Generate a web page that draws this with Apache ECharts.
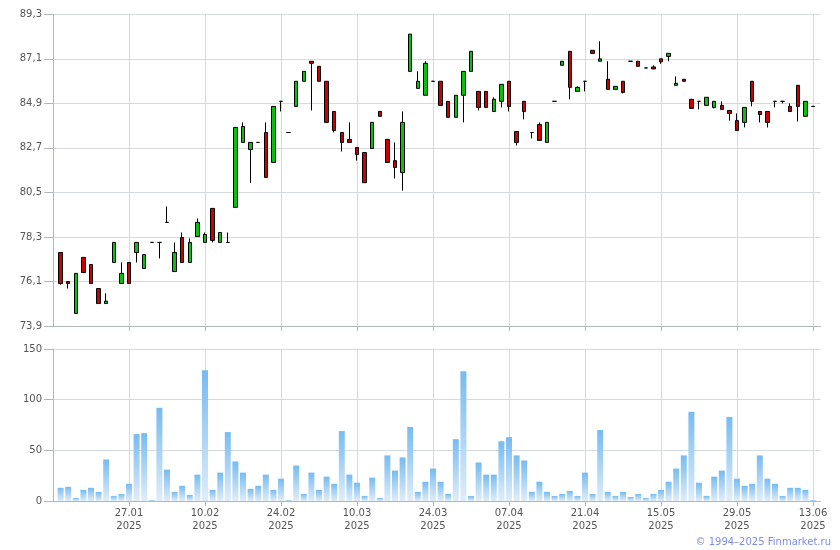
<!DOCTYPE html>
<html>
<head>
<meta charset="utf-8">
<script src="https://cdn.jsdelivr.net/npm/echarts@6/dist/echarts.min.js"></script>
<style>html,body{margin:0;padding:0;background:#fff}#c{width:840px;height:550px}</style>
</head>
<body>
<div id="c"></div>
<script>
// Price data per trading day (bars 0..99)
const openP  = [77.53,76.10,74.52,77.29,76.94,75.75,75.01,77.04,76.00,77.04,77.53,76.74,78.03,78.03,79.02,76.59,78.27,77.04,78.32,78.03,
                79.71,78.03,78.03,79.76,82.97,82.62,82.97,83.46,81.98,85.00,83.46,84.75,85.99,86.98,86.73,85.99,84.50,83.46,83.12,82.72,
                82.47,82.67,84.50,83.12,82.07,81.48,86.48,85.64,85.30,85.99,85.99,85.00,84.21,85.30,86.48,85.49,85.49,84.50,85.00,85.99,
                83.51,85.00,83.46,83.86,82.97,85.00,86.78,87.47,85.49,85.99,87.52,86.98,86.09,85.59,85.99,86.98,86.98,86.65,86.70,87.10,
                87.22,85.79,86.09,85.10,85.00,84.80,84.70,84.80,84.55,84.05,83.96,85.99,84.50,84.50,85.00,85.00,84.75,85.79,84.26,84.75];
const closeP = [76.00,76.00,76.50,76.54,76.00,75.01,75.13,78.03,76.50,76.00,78.03,77.43,78.03,78.03,79.02,77.53,77.04,78.03,79.02,78.42,
                78.13,78.52,78.03,83.71,83.76,82.97,82.97,81.24,84.75,85.00,83.46,85.99,86.48,86.88,85.99,83.96,83.56,82.97,82.97,82.37,
                80.98,83.96,84.26,81.98,81.73,83.96,88.32,85.99,86.88,85.99,84.80,84.21,85.30,86.48,87.47,84.70,84.70,85.10,85.84,84.75,
                82.97,84.50,83.46,83.07,83.96,85.00,86.98,85.69,85.69,85.99,87.37,87.10,85.59,85.74,85.44,86.98,86.73,86.65,86.60,86.95,
                87.37,85.89,85.99,84.65,85.00,85.20,85.00,84.60,84.40,83.56,84.70,85.00,84.35,83.96,85.00,85.00,84.50,84.75,85.00,84.75];
const lowP   = [75.94,75.75,74.52,76.54,76.00,75.01,75.01,77.04,76.00,76.00,77.04,76.74,78.03,77.24,79.02,76.59,77.04,77.04,78.32,78.03,
                78.03,78.03,78.03,79.76,82.97,80.97,82.97,81.24,81.98,84.50,83.46,84.75,85.99,84.55,85.99,83.96,83.46,82.52,82.97,82.07,
                80.98,82.67,84.26,81.98,81.19,80.59,86.48,85.64,85.30,85.99,84.80,84.21,84.21,83.96,86.48,84.55,84.70,84.50,84.70,84.50,
                82.82,84.11,83.17,83.07,82.97,85.00,86.78,85.10,85.49,85.49,87.37,86.98,85.59,85.59,85.39,86.98,86.73,86.65,86.60,86.85,
                86.98,85.79,85.99,84.65,84.60,84.80,84.65,84.60,84.05,83.56,83.71,84.75,83.96,83.71,84.70,84.90,84.50,84.00,84.26,84.75];
const highP  = [77.53,76.10,76.50,77.29,76.94,75.75,75.51,78.03,77.04,77.04,78.03,77.43,78.03,78.03,79.81,78.03,78.52,78.23,79.21,78.52,
                79.71,78.52,78.52,83.71,83.96,82.97,82.97,83.96,84.75,85.00,83.46,85.99,86.48,86.98,86.73,85.99,84.50,83.46,83.96,82.72,
                82.47,83.96,84.50,83.12,82.97,84.50,88.32,86.48,86.98,85.99,85.99,85.00,85.30,86.48,87.47,85.49,85.49,85.20,85.84,85.99,
                83.51,85.00,83.46,83.96,83.96,85.00,86.98,87.47,85.74,85.99,87.52,87.97,86.98,85.74,85.99,86.98,86.98,86.65,86.78,87.10,
                87.37,86.23,86.09,85.10,85.00,85.20,85.00,85.00,84.55,84.40,84.70,85.99,84.50,84.50,85.00,85.00,84.90,85.79,85.00,84.75];
const volume = [13,14,3,11,13,9,41,5,7,17,66,67,1,92,31,9,15,6,26,129,
                11,28,68,39,28,12,15,26,11,22,1,35,7,28,11,24,17,69,26,18,
                5,23,3,45,30,43,73,9,19,32,19,7,61,128,5,38,26,26,59,63,
                45,40,9,19,9,5,7,10,5,28,7,70,9,5,9,4,7,3,7,11,
                19,32,45,88,18,5,24,30,83,22,15,17,45,22,17,5,13,13,11,1];
// x-axis tick labels at bars 9,19,...,99
const tickBars   = [9,19,29,39,49,59,69,79,89,99];
const tickLabels = ['27.01','10.02','24.02','10.03','24.03','07.04','21.04','15.05','29.05','13.06'];
const tickYear = '2025';
// price axis ticks
const priceMin = 73.9, priceMax = 89.3, priceStep = 2.2;
const volMin = 0, volMax = 150, volStep = 50;

const N = openP.length;
// category slots: one empty slot before and after the bars
const cats = [];
for (let k = 0; k < N + 2; k++) cats.push(String(k));
const labelMap = {};
tickBars.forEach((b, i) => { labelMap[b + 1] = tickLabels[i] + '\n' + tickYear; });
const candleData = ['-'];
const volData = ['-'];
for (let i = 0; i < N; i++) {
  candleData.push([openP[i], closeP[i], lowP[i], highP[i]]);
  volData.push(volume[i]);
}
candleData.push('-'); volData.push('-');

const gridColor = '#d6d9dd', axisColor = '#b3b6be', txt = '#555';
const font = 'DejaVu Sans';
const tickFn = (idx) => idx > 0 && idx % 10 === 0;

const chart = echarts.init(document.getElementById('c'), null, {renderer: 'canvas'});
chart.setOption({
  animation: false,
  backgroundColor: '#fff',
  grid: [
    {left: 53, right: 19.4, top: 14.3, height: 311.7},
    {left: 53, right: 19.4, top: 349, height: 152}
  ],
  xAxis: [
    {type: 'category', gridIndex: 0, data: cats, boundaryGap: false,
     axisLine: {show: true, lineStyle: {color: axisColor}},
     axisTick: {show: true, interval: tickFn, length: 5, lineStyle: {color: axisColor}},
     axisLabel: {show: false},
     splitLine: {show: true, interval: tickFn, lineStyle: {color: gridColor}}},
    {type: 'category', gridIndex: 1, data: cats, boundaryGap: false,
     axisLine: {show: true, lineStyle: {color: axisColor}},
     axisTick: {show: true, interval: tickFn, length: 5, lineStyle: {color: axisColor}},
     axisLabel: {show: true, interval: tickFn, margin: 6, color: txt, fontFamily: font, fontSize: 10, lineHeight: 13,
                 formatter: (v, idx) => labelMap[idx] || ''},
     splitLine: {show: true, interval: tickFn, lineStyle: {color: gridColor}}}
  ],
  yAxis: [
    {type: 'value', gridIndex: 0, min: priceMin, max: priceMax, interval: priceStep, scale: true,
     axisLine: {show: true, lineStyle: {color: axisColor}},
     axisTick: {show: true, length: 9, lineStyle: {color: axisColor}},
     axisLabel: {margin: 11, color: txt, fontFamily: font, fontSize: 10,
                 formatter: v => v.toFixed(1).replace('.', ',')},
     splitLine: {show: true, lineStyle: {color: gridColor}}},
    {type: 'value', gridIndex: 1, min: volMin, max: volMax, interval: volStep,
     axisLine: {show: true, lineStyle: {color: axisColor}},
     axisTick: {show: true, length: 9, lineStyle: {color: axisColor}},
     axisLabel: {margin: 11, color: txt, fontFamily: font, fontSize: 10},
     splitLine: {show: true, lineStyle: {color: gridColor}}}
  ],
  series: [
    {type: 'candlestick', xAxisIndex: 0, yAxisIndex: 0, data: candleData, barWidth: 4,
     itemStyle: {color: '#0cbf0c', color0: '#cc0000', borderColor: '#000', borderColor0: '#000',
                 borderColorDoji: '#000', borderWidth: 1}},
    {type: 'bar', xAxisIndex: 1, yAxisIndex: 1, data: volData, barWidth: 6,
     itemStyle: {color: new echarts.graphic.LinearGradient(0, 0, 0, 1,
        [{offset: 0, color: '#76bbf0'}, {offset: 1, color: '#e0edf9'}])}}
  ],
  graphic: [
    {type: 'text', right: 9, bottom: 3,
     style: {text: '© 1994–2025 Finmarket.ru', fill: '#7d8ee0', font: '10px "DejaVu Sans"'}}
  ]
});
</script>
</body>
</html>
